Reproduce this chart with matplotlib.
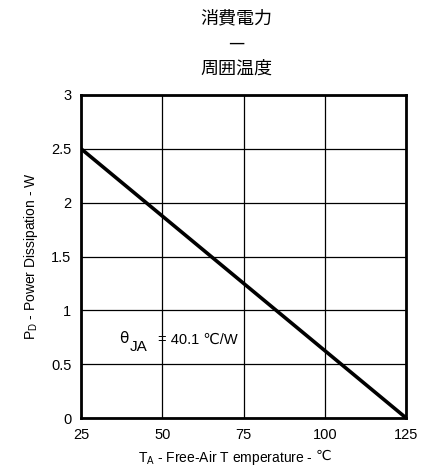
import matplotlib.pyplot as plt

# data
temp = [25, 125]
power = [2.5, 0]
x_ticks = [25, 50, 75, 100, 125]
y_ticks = [0, 0.5, 1, 1.5, 2, 2.5, 3]
y_labels = ['0', '0.5', '1', '1.5', '2', '2.5', '3']
title = '消費電力\n—\n周囲温度'

plt.rcParams['font.family'] = ['Liberation Sans', 'Noto Sans CJK JP', 'DejaVu Sans']
plt.rcParams['mathtext.fontset'] = 'custom'
plt.rcParams['mathtext.rm'] = 'Liberation Sans'
plt.rcParams['mathtext.it'] = 'Liberation Sans'

fig = plt.figure(figsize=(4.41, 4.75), dpi=100)
ax = fig.add_axes([0.184, 0.12, 0.737, 0.68])

ax.plot(temp, power, color='black', linewidth=2.6, solid_capstyle='butt')

ax.set_xlim(25, 125)
ax.set_ylim(0, 3)
ax.set_xticks(x_ticks)
ax.set_yticks(y_ticks)
ax.set_yticklabels(y_labels)
ax.tick_params(labelsize=10.5, length=0, pad=7)
ax.grid(True, color='black', linewidth=0.9)
for s in ax.spines.values():
    s.set_linewidth(2)

# label with the degree sign drawn separately (mathtext font lacks it)
ax.set_xlabel(r'T$_{\mathrm{A}}$ - Free-Air T emperature -', fontsize=10)
ax.xaxis.set_label_coords(0.445, -0.095)
ax.annotate('℃', xy=(1, 0.62), xycoords=ax.xaxis.label, xytext=(2, 0),
            textcoords='offset points', ha='left', va='center', fontsize=10,
            family=['DejaVu Sans'])
ax.set_ylabel(r'P$_{\mathrm{D}}$ - Power Dissipation - W', fontsize=10, labelpad=8)

# theta_JA annotation
ax.text(36.8, 0.74, 'θ', fontsize=11, ha='left', va='center',
        family=['DejaVu Sans'])
ax.text(40.0, 0.66, 'JA', fontsize=11, ha='left', va='center')
ax.text(48.5, 0.73, '= 40.1 ℃/W', fontsize=10.5, ha='left', va='center',
        family=['Liberation Sans', 'DejaVu Sans'])

fig.text(0.535, 0.98, title, ha='center', va='top', fontsize=13,
         family=['Noto Sans CJK JP'], linespacing=1.5)

fig.savefig('out.png', dpi=100)
